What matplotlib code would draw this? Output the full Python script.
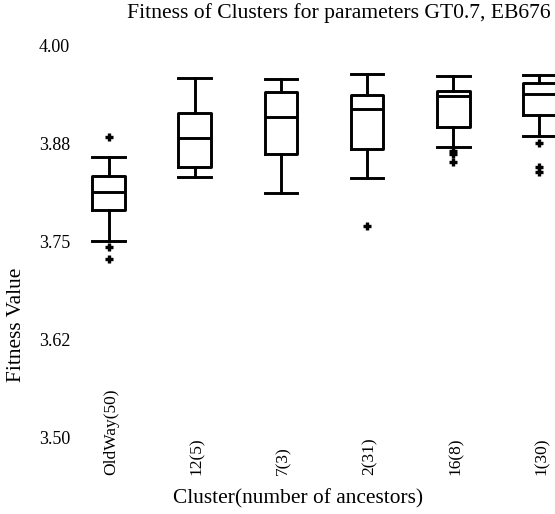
import matplotlib
matplotlib.use("Agg")
from matplotlib import pyplot as plt
from matplotlib import transforms

labels = ["OldWay(50)", "12(5)", "7(3)", "2(31)", "16(8)", "1(30)"]
whislo = [3.750, 3.832, 3.811, 3.830, 3.870, 3.884]
q1 = [3.790, 3.844, 3.861, 3.867, 3.895, 3.911]
med = [3.8125, 3.881, 3.908, 3.918, 3.935, 3.9375]
q3 = [3.833, 3.913, 3.940, 3.936, 3.941, 3.952]
whishi = [3.857, 3.958, 3.957, 3.963, 3.960, 3.962]
fliers = [
    [3.883, 3.742, 3.727],
    [],
    [],
    [3.769],
    [3.865, 3.861, 3.851],
    [3.875, 3.844, 3.838],
]

yticks = [3.5, 3.625, 3.75, 3.875, 4.0]

plt.rcParams["font.family"] = ["Liberation Serif", "DejaVu Serif"]

W, H = 555, 514
fig = plt.figure(figsize=(W / 100, H / 100), dpi=100)
# axes runs past the right edge on purpose, the last box is cut off
ax = fig.add_axes([75 / W, (H - 437) / H, 525 / W, 392 / H])

stats = []
for i in range(len(labels)):
    stats.append(dict(whislo=whislo[i], q1=q1[i], med=med[i], q3=q3[i],
                      whishi=whishi[i], fliers=fliers[i], label=labels[i]))

pos = list(range(1, len(labels) + 1))
lw = 2.1
ax.bxp(stats, positions=pos, widths=0.38, capwidths=0.38,
       boxprops=dict(color="black", linewidth=lw),
       medianprops=dict(color="black", linewidth=lw),
       whiskerprops=dict(color="black", linewidth=lw),
       capprops=dict(color="black", linewidth=lw),
       flierprops=dict(marker="+", markersize=6, markeredgewidth=2.4,
                       markeredgecolor="black", linestyle="none"))

ax.set_xlim(0.611, 6.702)
ax.set_ylim(3.5, 4.0)
for s in ax.spines.values():
    s.set_visible(False)
ax.set_xticks([])
ax.set_yticks(yticks)
ax.set_yticklabels(["%.2f" % v for v in yticks])
ax.tick_params(axis="y", length=0, pad=3.6, labelsize=13)

trans = transforms.blended_transform_factory(ax.transData, fig.transFigure)
for p, lab in zip(pos, labels):
    ax.text(p + 0.03, (H - 475) / H, lab, rotation=90, ha="center", va="bottom",
            fontsize=12.5, transform=trans, clip_on=False)

fig.text(127 / W, 1 - 13 / H, "Fitness of Clusters for parameters GT0.7, EB676",
         ha="left", va="center", fontsize=15.6)
fig.text(298 / W, 1 - 499 / H, "Cluster(number of ancestors)",
         ha="center", va="center", fontsize=15.4)
fig.text(17 / W, 1 - 325 / H, "Fitness Value", rotation=90,
         ha="center", va="center", fontsize=15.4)

fig.savefig("out.png", dpi=100)
